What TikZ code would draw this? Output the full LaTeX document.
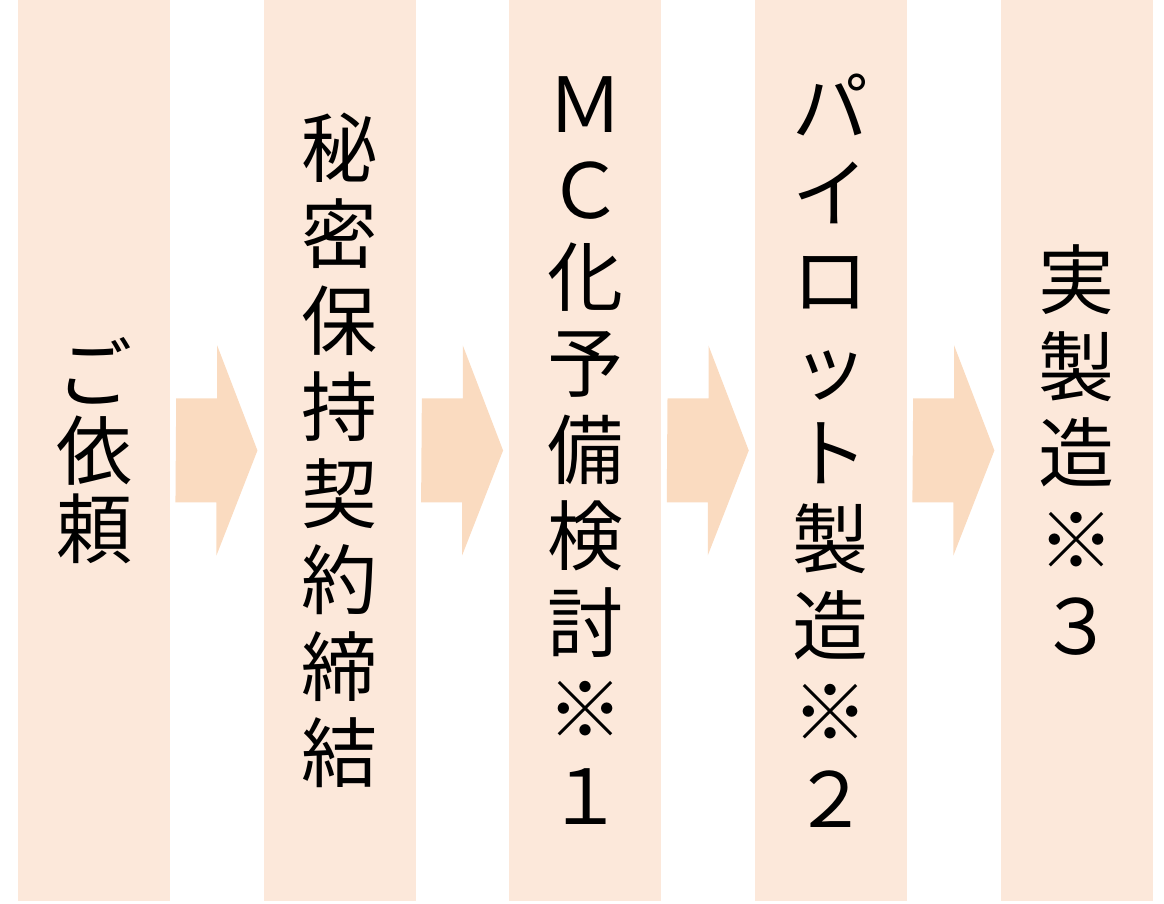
\documentclass[tikz,border=0pt]{standalone}
\usepackage{fontspec}
\setmainfont{Noto Sans CJK JP}
\usepackage{tikz}
\usetikzlibrary{positioning}
\definecolor{colbg}{RGB}{252,232,218}
\definecolor{arrowbg}{RGB}{250,219,192}

\begin{document}
\begin{tikzpicture}
    [x = 1pt, y = 1pt,
      node distance = 93.25pt,
      col/.style={fill = colbg, minimum width = 152pt, minimum height = 901pt,
        inner sep = 0pt, align = center, font = \fontsize{76}{86.5}\selectfont},
      arrow/.style={fill = arrowbg}]
    \useasboundingbox (0,0) rectangle (1164,904);
    \node[col, font = \fontsize{76}{78}\selectfont] (irai) at (94,453.5) {ご\\依\\頼};
    \node[col, right = of irai] (keiyaku) {秘\\密\\保\\持\\契\\約\\締\\結};
    \node[col, right = of keiyaku] (kento) {Ｍ\\Ｃ\\化\\予\\備\\検\\討\\※\\１};
    \node[col, right = of kento] (pilot) {パ\\イ\\ロ\\ッ\\ト\\製\\造\\※\\２};
    \node[col, right = of pilot] (jisseizo) {実\\製\\造\\※\\３};
    % block arrows between the columns
    \fill[arrow] ([xshift=6pt, yshift=52pt]irai.east) -- ++(41,0) -- ++(0,53)
      -- ([xshift=-6pt]keiyaku.west) -- ++(-41,-105) -- ++(0,53) -- ++(-41,0) -- cycle;
    \fill[arrow] ([xshift=6pt, yshift=52pt]keiyaku.east) -- ++(41,0) -- ++(0,53)
      -- ([xshift=-6pt]kento.west) -- ++(-41,-105) -- ++(0,53) -- ++(-41,0) -- cycle;
    \fill[arrow] ([xshift=6pt, yshift=52pt]kento.east) -- ++(41,0) -- ++(0,53)
      -- ([xshift=-6pt]pilot.west) -- ++(-41,-105) -- ++(0,53) -- ++(-41,0) -- cycle;
    \fill[arrow] ([xshift=6pt, yshift=52pt]pilot.east) -- ++(41,0) -- ++(0,53)
      -- ([xshift=-6pt]jisseizo.west) -- ++(-41,-105) -- ++(0,53) -- ++(-41,0) -- cycle;
  \end{tikzpicture}
\end{document}
